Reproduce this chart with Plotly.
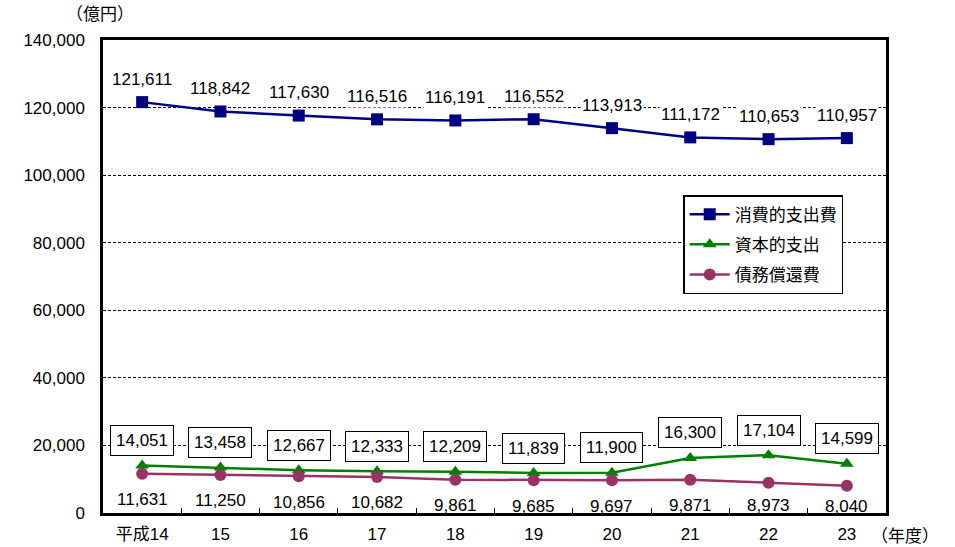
import plotly.graph_objects as go

years = ["平成14", "15", "16", "17", "18", "19", "20", "21", "22", "23"]
consumption = [121611, 118842, 117630, 116516, 116191, 116552, 113913, 111172, 110653, 110957]
capital = [14051, 13458, 12667, 12333, 12209, 11839, 11900, 16300, 17104, 14599]
debt = [11631, 11250, 10856, 10682, 9861, 9685, 9697, 9871, 8973, 8040]

names = ["消費的支出費", "資本的支出", "債務償還費"]
FONT = "Liberation Sans, Arial, Noto Sans CJK JP, sans-serif"
FS = 17
YMAX = 140000
PLOT_H = 473  # plot-area height in px (used for label offsets only)

idx = list(range(len(years)))

fig = go.Figure()
fig.add_trace(go.Scatter(x=idx, y=consumption, name=names[0], mode="lines+markers", legendgroup="a",
                         line=dict(color="#000080", width=2.5),
                         marker=dict(symbol="square", size=12, color="#000080")))
fig.add_trace(go.Scatter(x=idx, y=capital, name=names[1], mode="lines+markers", legendgroup="b",
                         line=dict(color="#008000", width=2.5),
                         marker=dict(symbol="triangle-up", size=12, color="#008000")))
fig.add_trace(go.Scatter(x=idx, y=debt, name=names[2], mode="lines+markers", legendgroup="c",
                         line=dict(color="#993366", width=2.5),
                         marker=dict(symbol="circle", size=12, color="#993366")))

ann = []
for x, v in zip(idx, consumption):
    ann.append(dict(x=x, y=v, text=f"{v:,}", showarrow=False, yshift=23,
                    bgcolor="white", font=dict(size=FS, color="black", family=FONT)))
for x, v in zip(idx, capital):
    ann.append(dict(x=x, y=v, text=f"{v:,}", showarrow=False, yshift=25,
                    bgcolor="white", bordercolor="black", borderwidth=1, borderpad=5,
                    font=dict(size=FS, color="black", family=FONT)))
for x, v in zip(idx, debt):
    px_above_axis = v / YMAX * PLOT_H
    shift = min(26, px_above_axis - 7)
    ann.append(dict(x=x, y=v, text=f"{v:,}", showarrow=False, yshift=-shift,
                    font=dict(size=FS, color="black", family=FONT)))
ann.append(dict(xref="paper", yref="paper", x=-0.004, y=1.053, xanchor="center", yanchor="middle",
                text="（億円）", showarrow=False, font=dict(size=FS, color="black", family=FONT)))
ann.append(dict(xref="paper", yref="paper", x=1.024, y=-0.0507, xanchor="center", yanchor="middle",
                text="（年度）", showarrow=False, font=dict(size=FS, color="black", family=FONT)))

fig.update_layout(
    width=955, height=547,
    margin=dict(l=103, r=69, t=40, b=34, autoexpand=False),
    paper_bgcolor="white", plot_bgcolor="white",
    font=dict(family=FONT, size=FS, color="black"),
    annotations=ann,
    legend=dict(x=0.741, y=0.672, xanchor="left", yanchor="top",
                bgcolor="white", bordercolor="black", borderwidth=1.5,
                font=dict(size=17, family="Noto Sans CJK JP"), tracegroupgap=5,
                itemwidth=40),
    xaxis=dict(range=[-0.5, 9.5], tickmode="array", tickvals=idx, ticktext=years,
               showline=True, linecolor="black", linewidth=2.5, ticklabelstandoff=4,
               automargin=False,
               mirror=True, ticks="", showgrid=False, tickfont=dict(size=FS), zeroline=False),
    yaxis=dict(range=[0, YMAX], dtick=20000, tickformat=",d", showline=True, linecolor="black",
               linewidth=2.5, mirror=True, showgrid=True, gridcolor="black", gridwidth=1,
               griddash="3px,2px", ticks="", tickfont=dict(size=FS), zeroline=False,
               ticklabelstandoff=12, automargin=False),
    showlegend=True,
)
# inside tick marks at category boundaries on x-axis
fig.update_layout(xaxis2=dict(overlaying="x", range=[-0.5, 9.5], tickmode="array",
                              tickvals=[i + 0.5 for i in idx[:-1]], ticktext=[""] * 9,
                              ticks="inside", ticklen=5, tickcolor="black", side="bottom",
                              automargin=False,
                              showgrid=False, showline=False, zeroline=False, anchor="y"))
fig.add_trace(go.Scatter(x=[0], y=[None], xaxis="x2", showlegend=False, hoverinfo="skip"))

fig.write_html("out.html", config={"displayModeBar": False},
               post_script="document.body.style.margin='0';document.body.style.overflow='hidden';")
